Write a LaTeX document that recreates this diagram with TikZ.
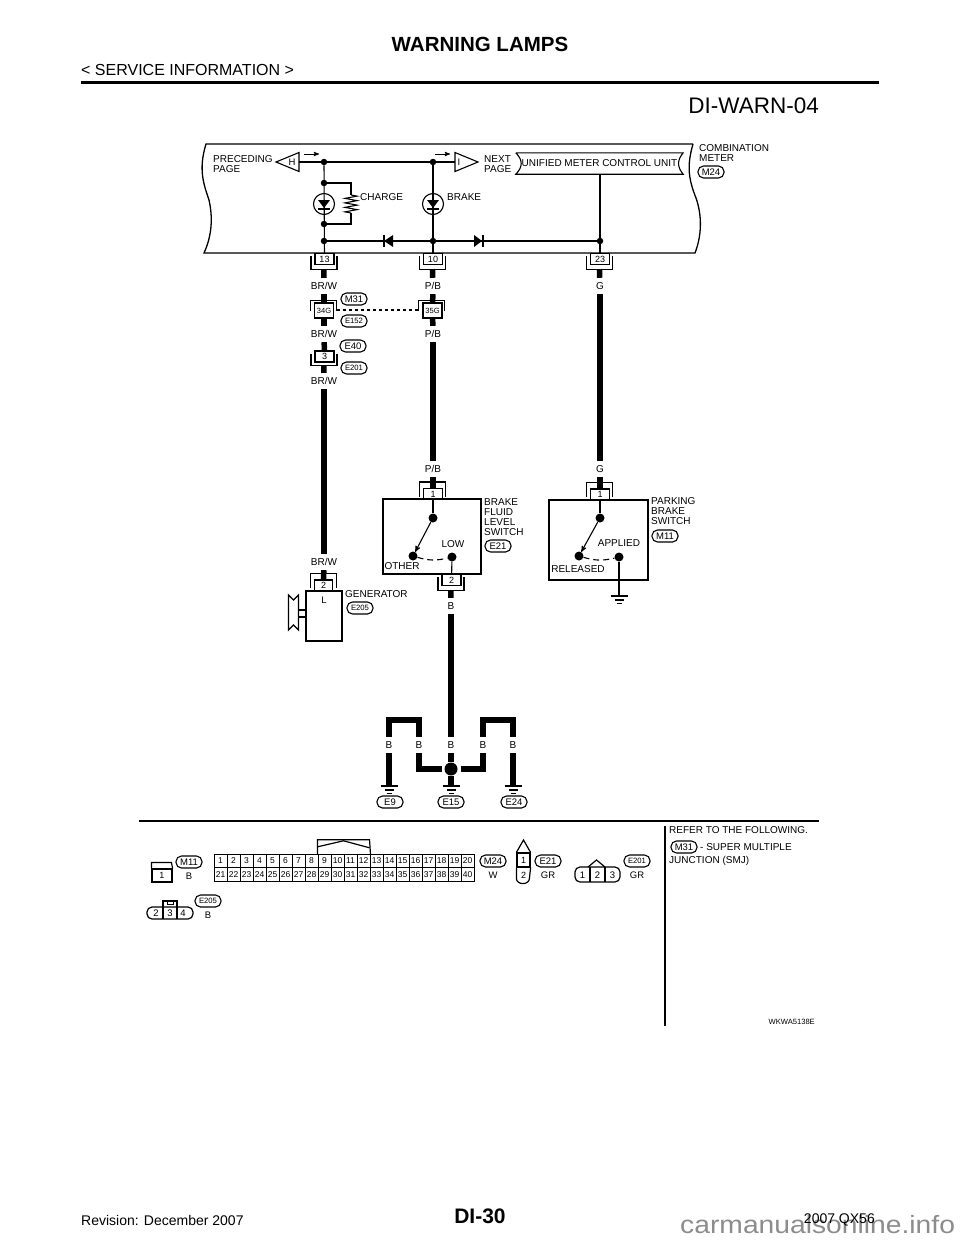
\documentclass[tikz,border=0pt]{standalone}
\usepackage{fontspec}
\setmainfont{Liberation Sans}
\usetikzlibrary{arrows,decorations.pathmorphing}
\newcommand{\plugup}[2][6]{\draw[plug] (#2.north west) ++(-3.5,9) -- ++(0,-9-#1) -- ++(26,0) -- ++(0,9+#1);}
\newcommand{\plugdown}[2][4]{\draw[plug] (#2.south west) ++(-3.5,-9) -- ++(0,9+#1) -- coordinate (#2t) ++(26,0) -- ++(0,-9-#1);}
\newcommand{\earth}[1]{\draw[line] (#1) ++(-8.5,0) -- ++(17,0) ++(-13,4) -- ++(9,0) ++(-7,3.5) -- ++(5,0);}
\newcommand{\lampdiode}[1]{\fill (#1) ++(-6,-4) -- ++(12,0) -- ++(-6,8) -- cycle; \draw[line] (#1) ++(-6,5) -- ++(12,0);}

\begin{document}
\begin{tikzpicture}[x=1pt,y=-1pt,>=stealth',
  line/.style={line width=1.1pt},
  harness/.style={line width=5.5pt},
  plug/.style={line width=1.1pt},
  dot/.style={circle,fill=black,inner sep=0pt,minimum size=#1},
  dot/.default=6.5pt,
  txt/.style={inner sep=0pt,font=\fontsize{10}{10.3}\selectfont,align=left},
  wirelabel/.style={inner sep=0pt,font=\fontsize{10}{10}\selectfont,minimum height=16pt},
  pill/.style={draw,line width=1.1pt,rounded corners=5.5pt,minimum width=26pt,minimum height=12pt,
    inner sep=0pt,font=\fontsize{9.5}{9.5}\selectfont},
  smallpill/.style={pill,font=\fontsize{7.7}{8}\selectfont},
  pinbox/.style={draw,line width=1.1pt,minimum width=19pt,minimum height=11pt,inner sep=0pt,
    font=\fontsize{9}{9}\selectfont},
  cell/.style={draw,line width=0.9pt,minimum width=13pt,minimum height=13.5pt,inner sep=0pt,
    font=\fontsize{8.5}{9}\selectfont},
  tiny/.style={inner sep=0pt,font=\fontsize{9.5}{10}\selectfont},
  swarc/.style={line,dash pattern=on 6pt off 4pt}]

  \useasboundingbox (0,0) rectangle (960,1242);

  % page head and foot
  \node[inner sep=0pt,font=\fontsize{20.5}{21}\selectfont\bfseries] (title) at (480,44) {WARNING LAMPS};
  \node[inner sep=0pt,anchor=west,font=\fontsize{16}{16}\selectfont] (section) at (81,70) {< SERVICE INFORMATION >};
  \draw[line width=3pt] (81,82) -- (879,82);
  \node[inner sep=0pt,anchor=east,font=\fontsize{22.5}{23}\selectfont] (code) at (819,106) {DI-WARN-04};
  \node[inner sep=0pt,font=\fontsize{21}{21}\selectfont\bfseries] (page) at (480,1216) {DI-30};
  \node[inner sep=0pt,anchor=west,font=\fontsize{14}{14}\selectfont] (rev) at (81,1220) {Revision: December 2007};
  \node[inner sep=0pt,anchor=base west,xscale=1.13,transform shape,text=black!45,font=\fontsize{25}{25}\selectfont] (mark) at (680,1233) {carmanualsonline.info};
  \node[inner sep=0pt,anchor=east,font=\fontsize{14}{14}\selectfont] (model) at (875,1220) {2007 QX56};

  % combination meter
  \draw[line width=1.3pt] (693,144) -- (206,144) .. controls (198,170) and (204,185) .. (209,200)
    .. controls (214,222) and (210,240) .. (204,253) -- (695,253)
    .. controls (702,235) and (702,215) .. (696,198) .. controls (688,178) and (687,165) .. (693,144);
  \node[txt,anchor=west] (prec) at (213,164) {PRECEDING\\PAGE};
  \node[txt,anchor=west] (next) at (484,164) {NEXT\\PAGE};
  \node[txt,anchor=west] (meter) at (699,153) {COMBINATION\\METER};
  \node[pill] (m24) at (711,172) {M24};
  \node[txt,anchor=west] (chg) at (360,197) {CHARGE};
  \node[txt,anchor=west] (brk) at (447,197) {BRAKE};

  \coordinate (hb) at (299,162);
  \coordinate (ib) at (455,162);
  \draw[line] (hb) ++(0,-9.5) -- (276,162) -- (299,171.5) -- cycle;
  \draw[line] (ib) ++(0,-9.5) -- (478,162) -- (455,171.5) -- cycle;
  \node[tiny] (h) at (292,162) {H};
  \node[tiny] (i) at (459,162) {I};
  \draw[->,line width=0.9pt] (304,154) -- (319,154);
  \draw[->,line width=0.9pt] (435,154) -- (450,154);

  \node[dot] (a1) at (324,162) {};
  \node[dot] (a2) at (324,183) {};
  \node[dot] (a3) at (324,224) {};
  \node[dot] (a4) at (324,241) {};
  \node[dot] (b1) at (433,162) {};
  \node[dot] (b4) at (433,241) {};
  \node[dot] (c4) at (600,241) {};
  \node[draw,line width=1.1pt,circle,minimum size=21pt,inner sep=0pt] (lampa) at (324,204) {};
  \node[draw,line width=1.1pt,circle,minimum size=21pt,inner sep=0pt] (lampb) at (433,204) {};
  \lampdiode{lampa}
  \lampdiode{lampb}

  \coordinate (rt) at (351,183);
  \coordinate (rb) at (351,224);
  \coordinate (r1) at (351,195);
  \coordinate (r2) at (351,213);
  \draw[line] (hb) -- (ib);
  \draw[line] (a4) -- (c4);
  \draw[line] (a2) -- (rt) -- (r1);
  \draw[line] (r2) -- (rb) -- (a3);
  \draw[line,decorate,decoration={zigzag,segment length=4.5pt,amplitude=6pt}] (r1) -- (r2);
  \fill (384,241) -- (393,235) -- (393,247) -- cycle;
  \draw[line] (384,235) -- (384,247);
  \fill (482,241) -- (474,235) -- (474,247) -- cycle;
  \draw[line] (483,235) -- (483,247);

  \node[inner sep=0pt,minimum width=167pt,minimum height=21pt,font=\fontsize{10}{10}\selectfont] (unit) at (599.5,163.5) {UNIFIED METER CONTROL UNIT};
  \draw[line] (unit.north west) -- (unit.north east) .. controls (677,160) and (677,167) .. (unit.south east)
    -- (unit.south west) .. controls (523,167) and (523,160) .. (unit.north west);

  % top connectors
  \node[pinbox] (p13) at (324.5,259) {13};
  \node[pinbox] (p10) at (433,259) {10};
  \node[pinbox] (p23) at (600,259) {23};
  \plugdown{p13}
  \plugdown{p10}
  \plugdown{p23}
  \draw[line] (a1) -- (p13);
  \draw[line] (b1) -- (p10);
  \draw[line] (unit.south -| c4) -- (p23);

  \node[wirelabel] (w1) at (324,286) {BR/W};
  \node[wirelabel] (w2) at (433,286) {P/B};
  \node[wirelabel] (w3) at (600,286) {G};
  \node[pinbox,minimum height=15pt,line width=1.5pt,font=\fontsize{7.5}{8}\selectfont] (p34) at (324,310.5) {34G};
  \node[pinbox,minimum height=15pt,line width=1.5pt,font=\fontsize{7.5}{8}\selectfont] (p35) at (432.5,310.5) {35G};
  \plugup[2]{p34}
  \plugup[2]{p35}
  \draw[line,dashed] (337,310) -- (420,310);
  \node[pill] (m31) at (354,299) {M31};
  \node[smallpill] (e152) at (354,321) {E152};
  \node[wirelabel] (w4) at (324,334) {BR/W};
  \node[wirelabel] (w5) at (433,334) {P/B};
  \node[pinbox] (p3) at (324.5,356.5) {3};
  \plugdown[3]{p3}
  \node[pill] (e40) at (353,346) {E40};
  \node[smallpill] (e201) at (354,368) {E201};
  \node[wirelabel] (w6) at (324,381) {BR/W};

  \node[wirelabel] (w7) at (433,469) {P/B};
  \node[wirelabel] (w8) at (600,469) {G};
  \node[wirelabel] (w9) at (324,562) {BR/W};

  % generator
  \node[draw,line width=1.2pt,minimum width=36pt,minimum height=50pt,inner sep=0pt] (gen) at (324,616) {};
  \node[tiny] (l) at (324,600) {L};
  \node[pinbox,minimum width=18pt] (p2) at (323.5,585.5) {2};
  \plugup{p2}
  \draw[line] (288.5,595) -- (293.5,600) -- (298.5,595) -- (298.5,630) -- (293.5,625) -- (288.5,630) -- cycle;
  \draw[line] (298.5,610) -- (306,610);
  \draw[line] (298.5,617) -- (306,617);
  \node[txt,anchor=west] (gent) at (345,594) {GENERATOR};
  \node[smallpill] (e205) at (360,608) {E205};

  % brake fluid level switch
  \node[draw,line width=1.2pt,minimum width=98pt,minimum height=75pt,inner sep=0pt] (sw1) at (432,536.5) {};
  \node[pinbox] (p1) at (433,494) {1};
  \plugup{p1}
  \node[dot=9pt] (s1) at (433,518) {};
  \node[dot=9pt] (s2) at (413,556) {};
  \node[dot=9pt] (s3) at (452,557) {};
  \draw[line] (p1) -- (s1);
  \draw[->,line] (s1) -- (s2);
  \draw[swarc] (s2) to[bend right=15] (s3);
  \node[pinbox] (p2b) at (451.5,580) {2};
  \plugdown{p2b}
  \draw[line] (s3) -- (p2b);
  \node[txt] (low) at (453,544) {LOW};
  \node[txt] (oth) at (402,566) {OTHER};
  \node[txt,anchor=north west] (sw1t) at (484,498) {BRAKE\\FLUID\\LEVEL\\SWITCH};
  \node[pill] (e21) at (498,546) {E21};

  % parking brake switch
  \node[draw,line width=1.2pt,minimum width=99pt,minimum height=80pt,inner sep=0pt] (sw2) at (598.5,540) {};
  \node[pinbox] (p1b) at (600,494.5) {1};
  \plugup{p1b}
  \node[dot=9pt] (t1) at (600,518) {};
  \node[dot=9pt] (t2) at (579,556) {};
  \node[dot=9pt] (t3) at (619,557) {};
  \draw[line] (p1b) -- (t1);
  \draw[->,line] (t1) -- (t2);
  \draw[swarc] (t2) to[bend right=15] (t3);
  \coordinate (gp) at (619,596);
  \draw[line] (t3) -- (gp);
  \earth{gp}
  \node[txt] (app) at (619,543) {APPLIED};
  \node[txt] (rel) at (578,569) {RELEASED};
  \node[txt,anchor=north west] (sw2t) at (651,497) {PARKING\\BRAKE\\SWITCH};
  \node[pill] (m11) at (665,536) {M11};

  % harness down to the switches
  \path[harness] (p13t) edge (w1)
    (w1) edge (p34)
    (p34) edge (w4)
    (w4) edge (p3)
    (p3t) edge (w6)
    (w6) edge (w9)
    (w9) edge (p2)
    (p10t) edge (w2)
    (w2) edge (p35)
    (p35) edge (w5)
    (w5) edge (w7)
    (w7) edge (p1)
    (p23t) edge (w3)
    (w3) edge (w8)
    (w8) edge (p1b);

  % grounds
  \node[wirelabel] (bc) at (451,606) {B};
  \node[wirelabel] (b1l) at (389,745) {B};
  \node[wirelabel] (b2l) at (419,745) {B};
  \node[wirelabel] (b3l) at (451,745) {B};
  \node[wirelabel] (b4l) at (483,745) {B};
  \node[wirelabel] (b5l) at (513,745) {B};
  \node[dot=13pt] (j) at (451,769) {};
  \coordinate (g1) at (389,786);
  \coordinate (g2) at (451,786);
  \coordinate (g3) at (513,786);
  \coordinate (k1) at (389,720);
  \coordinate (k2) at (419,720);
  \coordinate (k3) at (419,769);
  \coordinate (k4) at (483,769);
  \coordinate (k5) at (483,720);
  \coordinate (k6) at (513,720);
  \coordinate (k7) at (442,769);
  \coordinate (k8) at (461,769);
  \path[harness] (p2bt) edge (bc)
    (bc) edge (b3l)
    (b3l) edge (j)
    (j) edge (g2)
    (b1l) edge (g1)
    (b5l) edge (g3);
  \draw[harness] (b1l) -- (k1) -- (k2) -- (b2l);
  \draw[harness] (b4l) -- (k5) -- (k6) -- (b5l);
  \draw[harness] (b2l) -- (k3) -- (k7);
  \draw[harness] (b4l) -- (k4) -- (k8);
  \earth{g1}
  \earth{g2}
  \earth{g3}
  \node[pill] (e9) at (390,802) {E9};
  \node[pill] (e15) at (451,802) {E15};
  \node[pill] (e24) at (514,802) {E24};

  % connector views
  \draw[line width=1.3pt] (139,821) -- (819,821);
  \draw[line width=1.3pt] (665,826) -- (665,1026);
  \node[txt,anchor=west] (ref1) at (669,830) {REFER TO THE FOLLOWING.};
  \node[pill] (m31b) at (684,847) {M31};
  \node[txt,anchor=west] (ref2) at (700,847) {- SUPER MULTIPLE};
  \node[txt,anchor=west] (ref3) at (669,861) {JUNCTION (SMJ)};
  \node[inner sep=0pt,anchor=east,font=\fontsize{7.6}{8}\selectfont] (wk) at (815,1022) {WKWA5138E};

  \node[draw,line width=1.2pt,minimum width=20pt,minimum height=13pt,inner sep=0pt,font=\fontsize{9}{9}\selectfont] (v1) at (162,875.5) {1};
  \draw[line width=1.2pt] (v1.north west) -- ++(0,-6) -- ++(20,0) -- (v1.north east);
  \node[pill] (vm11) at (189,862) {M11};
  \node[tiny] (vb1) at (189,876) {B};

  \foreach \n in {1,...,20} {
    \node[cell] (top\n) at ({207.5+13*\n},861) {\n};
    \pgfmathtruncatemacro{\m}{\n+20}
    \node[cell] (bot\n) at ({207.5+13*\n},874.5) {\m};
  }
  \draw[line width=1.2pt] (top9.north west) -- ++(0,-14) -- ++(52,0) -- (top12.north east);
  \draw[line width=1.2pt] (top9.north west) ++(0,-7) -- ++(26,-6) -- ++(26,7);
  \node[pill] (vm24) at (493,861) {M24};
  \node[tiny] (vw) at (493,875) {W};

  \node[draw,line width=1.2pt,minimum width=13pt,minimum height=14pt,inner sep=0pt,font=\fontsize{9}{9}\selectfont] (v21a) at (523.5,860) {1};
  \node[inner sep=0pt,font=\fontsize{9}{9}\selectfont] (v21b) at (523.5,875) {2};
  \draw[line width=1.2pt] (v21a.south west) -- ++(0,11) arc[start angle=180,end angle=0,x radius=6.5pt,y radius=-5pt] -- (v21a.south east);
  \draw[line width=1.2pt] (v21a.north west) -- (523.5,840) -- (v21a.north east);
  \node[pill] (ve21) at (548,861) {E21};
  \node[tiny] (vgr1) at (548,875) {GR};

  \node[draw,line width=1.2pt,rounded corners=5pt,minimum width=45pt,minimum height=15pt,inner sep=0pt] (v201) at (597.5,874.5) {};
  \draw[line width=1.2pt] (590,867) -- (590,882) (605,867) -- (605,882);
  \draw[line width=1.2pt] (588,867) -- (596.5,860) -- (605,867);
  \node[tiny] (n1) at (582.5,875) {1};
  \node[tiny] (n2) at (597.5,875) {2};
  \node[tiny] (n3) at (612.5,875) {3};
  \node[smallpill] (ve201) at (637,861) {E201};
  \node[tiny] (vgr2) at (637,875) {GR};

  \node[draw,line width=1.2pt,rounded corners=5pt,minimum width=46pt,minimum height=12pt,inner sep=0pt] (v205) at (170,913) {};
  \draw[line width=1.2pt] (163,907) -- (163,919) (177,907) -- (177,919);
  \draw[line width=1.2pt] (163,907) -- (163,901) -- (177,901) -- (177,907);
  \draw[line width=1pt] (167,901) rectangle (173,904);
  \node[tiny] (n4) at (156,913) {2};
  \node[tiny] (n5) at (170,913) {3};
  \node[tiny] (n6) at (183,913) {4};
  \node[smallpill] (ve205) at (208,901) {E205};
  \node[tiny] (vb2) at (208,915) {B};
\end{tikzpicture}
\end{document}
